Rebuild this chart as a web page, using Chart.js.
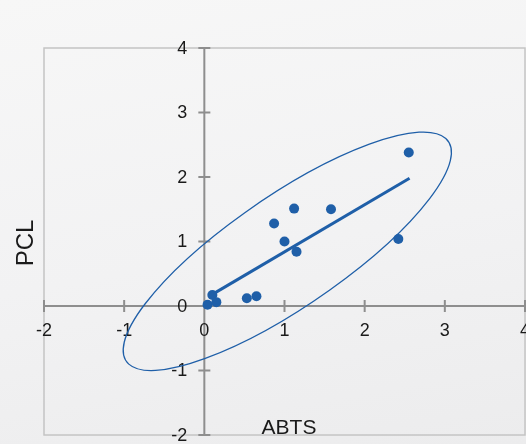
<!DOCTYPE html>
<html>
<head>
<meta charset="utf-8">
<script src="https://cdn.jsdelivr.net/npm/chart.js@4/dist/chart.umd.min.js"></script>
<style>
    html, body { margin: 0; padding: 0; }
    body {
        width: 526px; height: 444px; overflow: hidden;
        background: linear-gradient(170deg, #f7f7f7 0%, #f2f2f3 55%, #ececed 100%);
    }
</style>
</head>
<body>
<canvas id="chart" width="526" height="444"></canvas>
<script>
// measured values
const abts = [0.04, 0.10, 0.15, 0.53, 0.65, 0.87, 1.00, 1.15, 1.12, 1.58, 2.42, 2.55];
const pcl = [0.02, 0.17, 0.06, 0.12, 0.15, 1.28, 1.00, 0.84, 1.51, 1.50, 1.04, 2.38];

// regression line end points
const fitX = [0.10, 2.56];
const fitY = [0.18, 1.98];

const xTicks = [-2, -1, 0, 1, 2, 3, 4];
const yTicks = [-2, -1, 0, 1, 2, 3, 4];

// confidence ellipse, in data units
const ellipseCenter = [1.035, 0.848];
const ellipseRadii = [2.64, 0.80];
const ellipseAngle = 41.5; // degrees

const BLUE = '#1f5fa8';
const FONT = '"Liberation Sans", Arial, sans-serif';

const crossAxes = {
    id: 'crossAxes',
    beforeDatasetsDraw(chart) {
        const { ctx, chartArea: a, scales: { x, y } } = chart;
        const x0 = x.getPixelForValue(0);
        const y0 = y.getPixelForValue(0);

        ctx.save();
        // plot frame
        ctx.strokeStyle = '#c4c4c4';
        ctx.lineWidth = 1.5;
        ctx.strokeRect(a.left, a.top, a.right - a.left, a.bottom - a.top);

        // axes through the origin
        ctx.strokeStyle = '#8e8e8e';
        ctx.lineWidth = 2;
        ctx.beginPath();
        ctx.moveTo(a.left, y0); ctx.lineTo(a.right, y0);
        ctx.moveTo(x0, a.top); ctx.lineTo(x0, a.bottom);
        xTicks.forEach(v => {
            const px = x.getPixelForValue(v);
            ctx.moveTo(px, y0 - 6); ctx.lineTo(px, y0 + 6);
        });
        yTicks.forEach(v => {
            const py = y.getPixelForValue(v);
            ctx.moveTo(x0 - 6, py); ctx.lineTo(x0 + 6, py);
        });
        ctx.stroke();

        // tick labels
        ctx.fillStyle = '#1a1a1a';
        ctx.font = '18px ' + FONT;
        ctx.textBaseline = 'middle';
        ctx.textAlign = 'center';
        xTicks.forEach(v => ctx.fillText(String(v), x.getPixelForValue(v), y0 + 25));
        ctx.textAlign = 'right';
        yTicks.forEach(v => ctx.fillText(String(v), x0 - 17, y.getPixelForValue(v) + 1));

        // axis titles
        ctx.font = '21px ' + FONT;
        ctx.textAlign = 'center';
        ctx.fillText('ABTS', 289, 428);
        ctx.save();
        ctx.translate(26, 243);
        ctx.rotate(-Math.PI / 2);
        ctx.font = '24px ' + FONT;
        ctx.fillText('PCL', 0, 0);
        ctx.restore();

        // ellipse
        const sx = x.getPixelForValue(1) - x0;
        const sy = y0 - y.getPixelForValue(1);
        ctx.save();
        ctx.translate(x.getPixelForValue(ellipseCenter[0]), y.getPixelForValue(ellipseCenter[1]));
        ctx.scale(sx, -sy);
        ctx.rotate(ellipseAngle * Math.PI / 180);
        ctx.beginPath();
        ctx.ellipse(0, 0, ellipseRadii[0], ellipseRadii[1], 0, 0, Math.PI * 2);
        ctx.restore();
        ctx.strokeStyle = BLUE;
        ctx.lineWidth = 1.3;
        ctx.stroke();
        ctx.restore();
    }
};

new Chart(document.getElementById('chart'), {
    type: 'scatter',
    data: {
        datasets: [
            {
                data: abts.map((v, i) => ({ x: v, y: pcl[i] })),
                backgroundColor: BLUE,
                borderColor: BLUE,
                pointRadius: 5,
                pointBorderWidth: 0,
                order: 0,
            },
            {
                type: 'line',
                data: fitX.map((v, i) => ({ x: v, y: fitY[i] })),
                borderColor: BLUE,
                borderWidth: 3,
                pointRadius: 0,
                fill: false,
                order: 1,
            },
        ],
    },
    options: {
        responsive: false,
        devicePixelRatio: 1,
        animation: false,
        layout: { autoPadding: false, padding: { left: 44, right: 1, top: 48, bottom: 9 } },
        scales: {
            x: { type: 'linear', min: -2, max: 4, display: false },
            y: { type: 'linear', min: -2, max: 4, display: false },
        },
        plugins: {
            legend: { display: false },
            tooltip: { enabled: false },
        },
    },
    plugins: [crossAxes],
});
</script>
</body>
</html>
